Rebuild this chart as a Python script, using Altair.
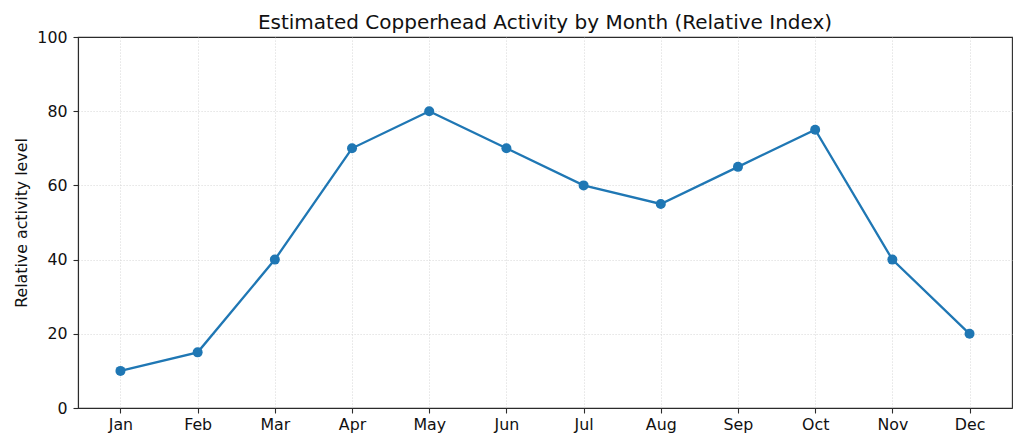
import altair as alt
import pandas as pd

months = ["Jan", "Feb", "Mar", "Apr", "May", "Jun", "Jul", "Aug", "Sep", "Oct", "Nov", "Dec"]
activity = [10, 15, 40, 70, 80, 70, 60, 55, 65, 75, 40, 20]
y_ticks = [0, 20, 40, 60, 80, 100]

df = pd.DataFrame({"Month": months, "Activity": activity})

font = "DejaVu Sans"
grid_style = dict(grid=True, gridColor="#cfcfcf", gridDash=[1.2, 1.8], gridWidth=0.7)
axis_style = dict(domainColor="#2b2b2b", domainWidth=1.1, tickColor="#2b2b2b", tickSize=5, tickWidth=1.1,
                  labelFont=font, labelFontSize=15.8, labelColor="#111")

chart = alt.Chart(df).mark_line(
    color="#1f77b4", strokeWidth=2.3,
    point=alt.OverlayMarkDef(filled=True, size=100, color="#1f77b4", opacity=1),
).encode(
    x=alt.X("Month:O", sort=months, title=None,
            scale=alt.Scale(type="point", padding=0.55),
            axis=alt.Axis(labelAngle=0, labelPadding=4, **grid_style, **axis_style)),
    y=alt.Y("Activity:Q", title="Relative activity level",
            scale=alt.Scale(domain=[0, 100], nice=False),
            axis=alt.Axis(values=y_ticks, labelPadding=6,
                          gridOpacity={"condition": {"test": "datum.value === 100", "value": 0}, "value": 1},
                          titleFont=font, titleFontSize=15.8, titleFontWeight="normal", titleColor="#111",
                          titlePadding=7, **grid_style, **axis_style)),
).properties(
    width=934, height=371,
    title=alt.TitleParams("Estimated Copperhead Activity by Month (Relative Index)",
                          font=font, fontSize=20, fontWeight="normal", color="#111",
                          offset=0, dy=24, frame="group", baseline="bottom"),
    autosize=alt.AutoSizeParams(type="none"),
    padding={"left": 70, "top": 29, "right": 4, "bottom": 32},
).configure_view(stroke="#2b2b2b", strokeWidth=1.1)

chart.save("out.html", embed_options={"renderer": "svg", "actions": False})
